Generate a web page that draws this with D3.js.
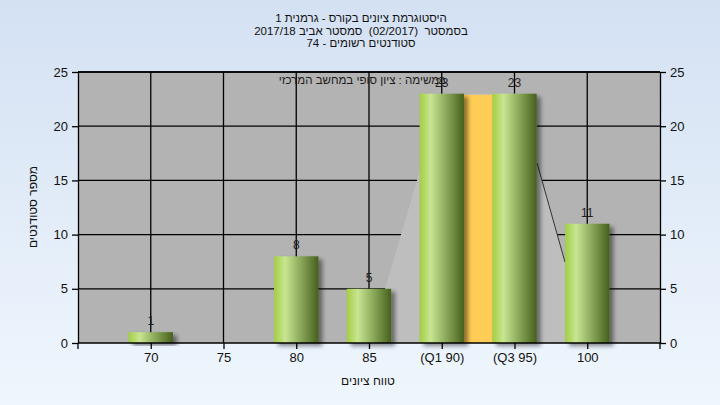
<!DOCTYPE html>
<html><head><meta charset="utf-8">
<script src="https://cdn.jsdelivr.net/npm/d3@7/dist/d3.min.js"></script>
<style>html,body{margin:0;padding:0;}svg{display:block;font-family:"Liberation Sans",Arial,sans-serif;}</style>
</head><body>
<svg id="c" width="720" height="405"></svg>
<script>
const categories = [70, 75, 80, 85, 90, 95, 100];
const tickLabels = ["70", "75", "80", "85", "(Q1 90)", "(Q3 95)", "100"];
const counts = [1, 0, 8, 5, 23, 23, 11];
const yTicks = [0, 5, 10, 15, 20, 25];
const quartileBand = [91.5, 93.5];
const quartileHeight = 22.9;
const curveArea = [[85, 0], [88.3, 15], [90, 23], [96.5, 23], [96.55, 16.6], [98.47, 7.47], [99.5, 0]];
const curveEdge = [[96.55, 16.6], [98.47, 7.47]];
const titleLines = ["היסטוגרמת ציונים בקורס - גרמנית 1", "בסמסטר  (02/2017)  סמסטר אביב 2017/18", "סטודנטים רשומים - 74"];
const noteText = "במשימה : ציון סופי במחשב המרכזי";
const xTitle = "טווח ציונים";
const yTitle = "מספר סטודנטים";

const svg = d3.select("#c");
const defs = svg.append("defs");
const bg = defs.append("linearGradient").attr("id","bg").attr("x1",0).attr("y1",0).attr("x2",0).attr("y2",1);
bg.append("stop").attr("offset","0%").attr("stop-color","#d4e1f3");
bg.append("stop").attr("offset","100%").attr("stop-color","#eff6fd");
const bar = defs.append("linearGradient").attr("id","bar").attr("x1",0).attr("y1",0).attr("x2",1).attr("y2",0);
[["0%","#a2ce43"],["25%","#c9e592"],["55%","#93b162"],["100%","#46601c"]].forEach(s=>bar.append("stop").attr("offset",s[0]).attr("stop-color",s[1]));
const f = defs.append("filter").attr("id","sh").attr("x","-20%").attr("y","-20%").attr("width","150%").attr("height","140%");
f.append("feDropShadow").attr("dx",4).attr("dy",3).attr("stdDeviation",2).attr("flood-color","#000").attr("flood-opacity",0.45);

svg.append("rect").attr("width",720).attr("height",405).attr("fill","url(#bg)");

const L = 78, R = 660, T = 72, B = 343;
const x = d3.scaleLinear().domain([65, 105]).range([L, R]);
const y = d3.scaleLinear().domain([0, 25]).range([B, T]);

svg.append("rect").attr("x",L).attr("y",T).attr("width",R-L).attr("height",B-T).attr("fill","#b3b3b3");

// gridlines
svg.append("g").selectAll("line").data(yTicks.filter(d=>d>0)).join("line")
  .attr("x1",L).attr("x2",R).attr("y1",d=>y(d)).attr("y2",d=>y(d)).attr("stroke","#000").attr("stroke-width",1.3);
svg.append("g").selectAll("line").data(categories).join("line")
  .attr("x1",d=>x(d)).attr("x2",d=>x(d)).attr("y1",T).attr("y2",B).attr("stroke","#000").attr("stroke-width",1.3);

// curve area
svg.append("path").datum(curveArea)
  .attr("d", d3.line().x(d=>x(d[0])).y(d=>y(d[1])))
  .attr("fill","#bebebe");
svg.append("path").datum(curveEdge)
  .attr("d", d3.line().x(d=>x(d[0])).y(d=>y(d[1])))
  .attr("fill","none").attr("stroke","#333").attr("stroke-width",1);

// quartile band
svg.append("rect").attr("x",x(quartileBand[0])).attr("width",x(quartileBand[1])-x(quartileBand[0]))
  .attr("y",y(quartileHeight)).attr("height",y(0)-y(quartileHeight)).attr("fill","#ffcc55");

// note
svg.append("text").attr("x",446).attr("y",84).attr("direction","rtl").attr("text-anchor","start")
  .attr("font-size",11.5).attr("fill","#1a1a1a").text(noteText);

// bars
const bw = 3.05;
const data = categories.map((c,i)=>({c, v:counts[i]}));
svg.append("g").selectAll("rect").data(data.filter(d=>d.v>0)).join("rect")
  .attr("x",d=>x(d.c-bw/2)).attr("width",x(bw)-x(0))
  .attr("y",d=>y(d.v)).attr("height",d=>y(0)-y(d.v))
  .attr("fill","url(#bar)").attr("filter","url(#sh)");

svg.append("g").selectAll("text").data(data.filter(d=>d.v>0)).join("text")
  .attr("x",d=>x(d.c)).attr("y",d=>y(d.v)-7).attr("text-anchor","middle")
  .attr("font-size",12).attr("fill","#1e1e1e").text(d=>d.v);

// axes
const axStyle = g => { g.selectAll("path,line").attr("stroke","#000").attr("stroke-width",1.3); g.selectAll("text").attr("font-size",13).attr("fill","#111").attr("font-family","'Liberation Sans',Arial,sans-serif"); };
svg.append("g").attr("transform",`translate(${L},0)`)
  .call(d3.axisLeft(y).tickValues(yTicks).tickSize(6).tickSizeOuter(0).tickPadding(4)).call(axStyle);
svg.append("g").attr("transform",`translate(${R},0)`)
  .call(d3.axisRight(y).tickValues(yTicks).tickSize(6).tickSizeOuter(0).tickPadding(4)).call(axStyle);
const xa = svg.append("g").attr("transform",`translate(0,${B})`)
  .call(d3.axisBottom(x).tickValues(categories).tickFormat((d,i)=>tickLabels[i]).tickSize(6).tickSizeOuter(0).tickPadding(4)).call(axStyle);
xa.select("path.domain").remove();
xa.append("line").attr("x1",L).attr("x2",R).attr("stroke","#000").attr("stroke-width",1.3);
xa.append("line").attr("x1",L).attr("x2",L).attr("y2",6).attr("stroke","#000").attr("stroke-width",1.3);
xa.append("line").attr("x1",R).attr("x2",R).attr("y2",6).attr("stroke","#000").attr("stroke-width",1.3);
svg.append("line").attr("x1",L).attr("x2",R).attr("y1",T).attr("y2",T).attr("stroke","#000").attr("stroke-width",1.3);

// titles
svg.append("g").selectAll("text").data(titleLines).join("text")
  .attr("x",361).attr("y",(d,i)=>22+i*12.5).attr("text-anchor","middle").attr("direction","rtl")
  .style("white-space","pre")
  .attr("font-size",11.5).attr("fill","#111").text(d=>d);
svg.append("text").attr("x",368).attr("y",385).attr("text-anchor","middle").attr("direction","rtl")
  .attr("font-size",12).attr("fill","#111").text(xTitle);
svg.append("text").attr("transform","translate(37,207) rotate(-90)").attr("text-anchor","middle").attr("direction","rtl")
  .attr("font-size",12).attr("fill","#111").text(yTitle);
</script>
</body></html>
